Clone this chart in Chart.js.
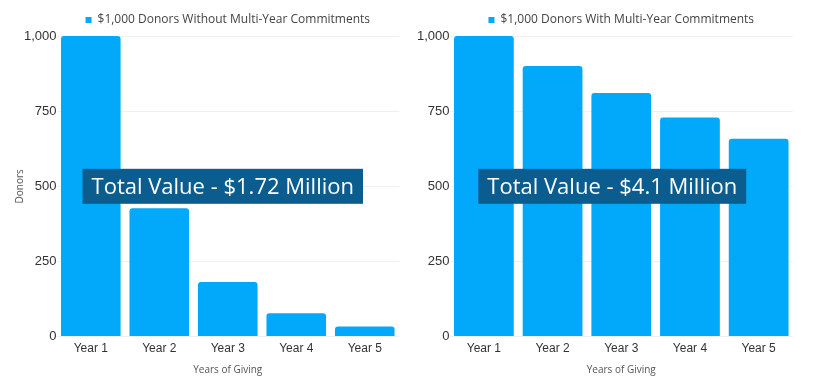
<!DOCTYPE html>
<html>
<head>
<meta charset="utf-8">
<script src="https://cdn.jsdelivr.net/npm/chart.js@4"></script>
<style>
  body { margin: 0; background: #fff; }
  #wrap { display: flex; width: 813px; height: 392px; }
  .box { position: relative; height: 392px; }
</style>
</head>
<body>
<div id="wrap">
  <div class="box" style="width:406px"><canvas id="sinCompromiso"></canvas></div>
  <div class="box" style="width:407px"><canvas id="conCompromiso"></canvas></div>
</div>
<script>
var anos = ["Year 1", "Year 2", "Year 3", "Year 4", "Year 5"];
var donantesSin = [1000, 427, 182, 78, 34];
var donantesCon = [1000, 900, 810, 729, 658];
var etiquetaSin = "$1,000 Donors Without Multi-Year Commitments";
var etiquetaCon = "$1,000 Donors With Multi-Year Commitments";
var totalSin = "Total Value - $1.72 Million";
var totalCon = "Total Value - $4.1 Million";
var ticksY = [0, 250, 500, 750, 1000];

var azul = '#02a9fb';
var azulOscuro = '#0b5d8f';

// caja del total, centrada en el area en el valor 500
var cajaTotal = {
  id: 'cajaTotal',
  afterDatasetsDraw: function (chart, args, opts) {
    var ctx = chart.ctx;
    var area = chart.chartArea;
    var y = chart.scales.y.getPixelForValue(500);
    ctx.save();
    ctx.font = '22px "Open Sans"';
    var w = ctx.measureText(opts.texto).width + 18;
    var h = 35;
    var x = (area.left + area.right) / 2 + opts.dx - w / 2;
    ctx.fillStyle = azulOscuro;
    ctx.fillRect(x, y - h / 2, w, h);
    ctx.fillStyle = '#fff';
    ctx.textAlign = 'left';
    ctx.textBaseline = 'middle';
    ctx.fillText(opts.texto, x + 9, y + 1);
    ctx.restore();
  }
};

function opciones(conTitulo, texto, dx, pad) {
  return {
    responsive: true,
    maintainAspectRatio: false,
    animation: false,
    layout: { padding: pad },
    plugins: {
      legend: {
        fullSize: false,
        labels: {
          boxWidth: 6, boxHeight: 6, color: '#444',
          font: { family: 'Open Sans', size: 12 }, padding: 10
        }
      },
      tooltip: { enabled: false },
      cajaTotal: { texto: texto, dx: dx }
    },
    scales: {
      x: {
        grid: { display: false, drawTicks: false },
        border: { display: false },
        ticks: { color: '#333', font: { family: 'Liberation Sans', size: 12 }, padding: 5 },
        title: { display: true, text: 'Years of Giving', color: '#555', font: { family: 'Open Sans', size: 10 }, padding: { top: 3 } }
      },
      y: {
        min: 0, max: 1000,
        afterBuildTicks: function (axis) { axis.ticks = ticksY.map(function (v) { return { value: v }; }); },
        grid: { color: '#f0f0f0', drawTicks: false },
        border: { display: false },
        ticks: { color: '#333', font: { family: 'Liberation Sans', size: 13 }, padding: 0 },
        title: { display: conTitulo, text: 'Donors', color: '#555', font: { family: 'Open Sans', size: 10 }, padding: { top: 9, bottom: -2 } }
      }
    }
  };
}

function crearGrafico(id, etiqueta, datos, conTitulo, texto, dx, pad) {
  return new Chart(document.getElementById(id).getContext('2d'), {
    type: 'bar',
    data: {
      labels: anos,
      datasets: [{
        label: etiqueta,
        data: datos,
        backgroundColor: azul,
        borderRadius: { topLeft: 3, topRight: 3 },
        borderSkipped: 'bottom',
        categoryPercentage: 1,
        barPercentage: 0.87
      }]
    },
    options: opciones(conTitulo, texto, dx, pad),
    plugins: [cajaTotal]
  });
}

crearGrafico('sinCompromiso', etiquetaSin, donantesSin, true, totalSin, -5, { left: 5, right: 7, top: 4, bottom: 12 });
crearGrafico('conCompromiso', etiquetaCon, donantesCon, false, totalCon, -9, { left: 11, right: 20, top: 4, bottom: 12 });
</script>
</body>
</html>
